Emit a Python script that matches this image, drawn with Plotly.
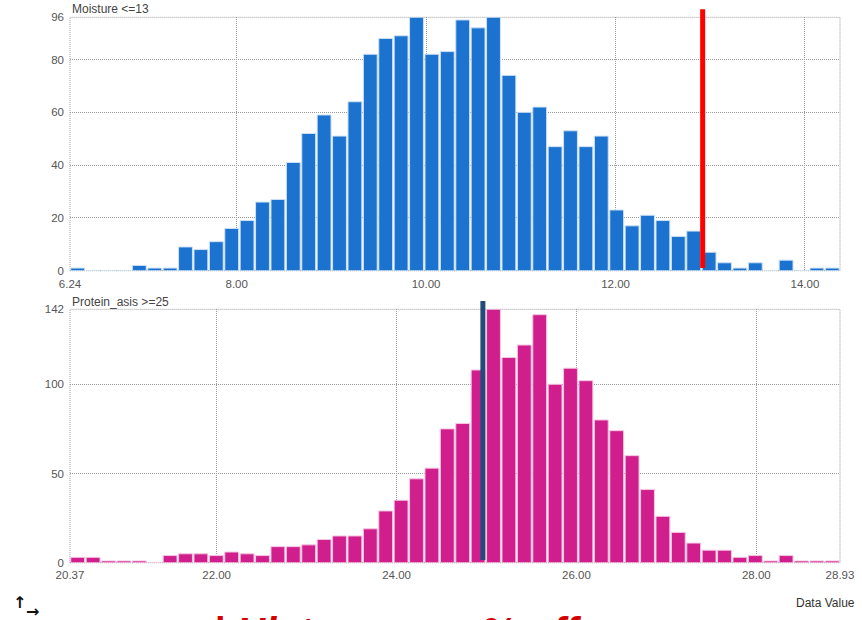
import plotly.graph_objects as go

# Moisture histogram: 50 equal bins over the data range
moisture_range = (6.24, 14.37)
moisture_counts = [1, 0, 0, 0, 2, 1, 1, 9, 8, 11, 16, 19, 26, 27, 41, 52, 59, 51, 64, 82,
                   88, 89, 96, 82, 83, 95, 92, 96, 74, 60, 62, 47, 53, 47, 51, 23, 17, 21, 19, 13,
                   15, 7, 3, 1, 3, 0, 4, 0, 1, 1]
moisture_cut = 12.92
moisture_xticks = [6.24, 8.00, 10.00, 12.00, 14.00]
moisture_xlabels = ["6.24", "8.00", "10.00", "12.00", "14.00"]
moisture_yticks = [0, 20, 40, 60, 80, 96]

# Protein histogram: 50 equal bins over the data range
protein_range = (20.37, 28.93)
protein_counts = [3, 3, 1, 1, 1, 0, 4, 5, 5, 4, 6, 5, 4, 9, 9, 10, 13, 15, 15, 19,
                  29, 35, 47, 53, 75, 78, 108, 142, 115, 122, 139, 100, 109, 102, 80, 74, 60, 41, 26, 17,
                  11, 7, 7, 3, 4, 1, 4, 1, 1, 1]
protein_cut = 24.96
protein_xticks = [20.37, 22.00, 24.00, 26.00, 28.00, 28.93]
protein_xlabels = ["20.37", "22.00", "24.00", "26.00", "28.00", "28.93"]
protein_yticks = [0, 50, 100, 142]

FONT = "Liberation Sans, Arial, sans-serif"
GRID = "#9a9a9a"
DOTS = "1px,1px"


def bin_centers(rng, counts):
    lo, hi = rng
    w = (hi - lo) / len(counts)
    return [lo + (i + 0.5) * w for i in range(len(counts))], w


fig = go.Figure()

mx, mw = bin_centers(moisture_range, moisture_counts)
fig.add_trace(go.Bar(x=mx, y=moisture_counts, xaxis="x", yaxis="y",
                     marker=dict(color="#1b73cf", line=dict(color="#cfe1f5", width=1))))

px_, pw = bin_centers(protein_range, protein_counts)
fig.add_trace(go.Bar(x=px_, y=protein_counts, xaxis="x2", yaxis="y2",
                     marker=dict(color="#d01f8c", line=dict(color="#f5c6e1", width=1))))

axis_common = dict(showgrid=True, griddash=DOTS, gridcolor=GRID, gridwidth=1,
                   zeroline=False, showline=False, ticks="", automargin=False,
                   tickfont=dict(family=FONT, size=11.5, color="#555555"))

fig.update_layout(
    width=862, height=620,
    margin=dict(l=0, r=0, t=0, b=0),
    paper_bgcolor="white", plot_bgcolor="white",
    showlegend=False, bargap=0.1,
    xaxis=dict(domain=[70 / 862, 840 / 862], anchor="y", range=list(moisture_range),
               tickmode="array", tickvals=moisture_xticks, ticktext=moisture_xlabels,
               ticklabelstandoff=5, **axis_common),
    yaxis=dict(domain=[0.5634, 0.9721], anchor="x", range=[0, max(moisture_yticks)],
               tickmode="array", tickvals=moisture_yticks, ticklabelstandoff=5,
               **axis_common),
    xaxis2=dict(domain=[70 / 862, 840 / 862], anchor="y2", range=list(protein_range),
                tickmode="array", tickvals=protein_xticks, ticktext=protein_xlabels,
                ticklabelstandoff=4, **axis_common),
    yaxis2=dict(domain=[0.0924, 0.5011], anchor="x2", range=[0, max(protein_yticks)],
                tickmode="array", tickvals=protein_yticks, ticklabelstandoff=5,
                **axis_common),
)

# dotted frame around each panel
for xa, ya in (("x", "y"), ("x2", "y2")):
    fig.add_shape(type="rect", xref=f"{xa} domain", yref=f"{ya} domain",
                  x0=0, x1=1, y0=0, y1=1, line=dict(color=GRID, width=1, dash=DOTS),
                  layer="below")

# threshold markers
fig.add_shape(type="line", xref="x", yref="y domain", x0=moisture_cut, x1=moisture_cut,
              y0=0.011, y1=1.032, line=dict(color="#ff0000", width=5))
fig.add_shape(type="line", xref="x2", yref="y2 domain", x0=protein_cut, x1=protein_cut,
              y0=0.011, y1=1.033, line=dict(color="#244a7c", width=5))

# panel captions
fig.add_annotation(text="Moisture <=13", xref="x domain", yref="y domain", x=0, y=1,
                   xanchor="left", yanchor="bottom", xshift=0, yshift=-1, showarrow=False,
                   font=dict(family=FONT, size=12, color="#444444"))
fig.add_annotation(text="Protein_asis >=25", xref="x2 domain", yref="y2 domain", x=0, y=1,
                   xanchor="left", yanchor="bottom", xshift=0, yshift=-2, showarrow=False,
                   font=dict(family=FONT, size=12, color="#444444"))
fig.add_annotation(text="Data Value", xref="paper", yref="paper", x=857 / 862, y=1 - 603 / 620,
                   xanchor="right", yanchor="middle", showarrow=False,
                   font=dict(family=FONT, size=12, color="#333333"))

# axis-orientation glyph
fig.add_annotation(text="<b>↑</b>", xref="paper", yref="paper", x=19 / 862, y=1 - 602 / 620,
                   xanchor="center", yanchor="middle", showarrow=False,
                   font=dict(family="DejaVu Sans", size=16, color="#111111"))
fig.add_annotation(text="<b>→</b>", xref="paper", yref="paper", x=32 / 862, y=1 - 611 / 620,
                   xanchor="center", yanchor="middle", showarrow=False,
                   font=dict(family="DejaVu Sans", size=16, color="#111111"))

# slide heading running off the bottom edge
fig.add_annotation(text="<b><i>| Histograms: % off</i></b>", xref="paper", yref="paper",
                   x=212 / 862, y=1 - 608 / 620, xanchor="left", yanchor="top",
                   showarrow=False, font=dict(family=FONT, size=40, color="#d40000"))

fig.write_html("out.html")
